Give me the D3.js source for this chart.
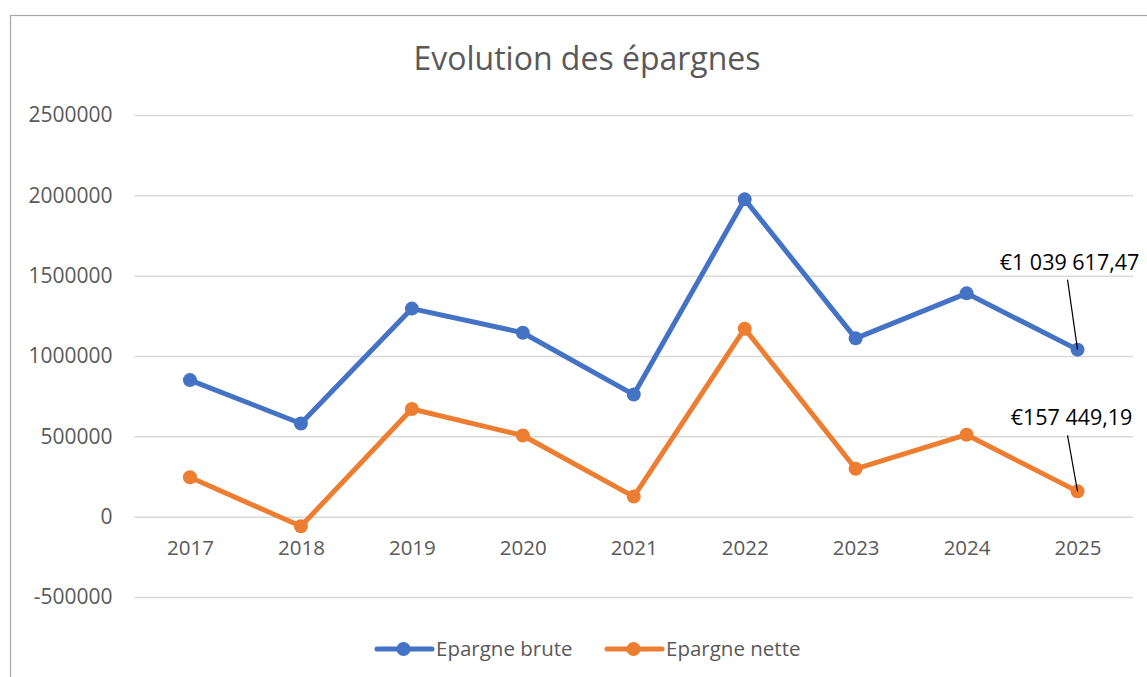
<!DOCTYPE html>
<html>
<head>
<meta charset="utf-8">
<script src="https://cdn.jsdelivr.net/npm/d3@7"></script>
<style>
  body { margin: 0; background: #fff; }
  svg { display: block; font-family: 'Open Sans', sans-serif; }
</style>
</head>
<body>
<div id="chart"></div>
<script>
const years = ['2017', '2018', '2019', '2020', '2021', '2022', '2023', '2024', '2025'];
const epargneBrute = [850000, 580000, 1295000, 1145000, 760000, 1975000, 1110000, 1390000, 1039617.47];
const epargneNette = [245000, -60000, 670000, 505000, 125000, 1170000, 298000, 510000, 157449.19];
const yTicks = [-500000, 0, 500000, 1000000, 1500000, 2000000, 2500000];
const seriesNames = ['Epargne brute', 'Epargne nette'];

const width = 1147;
const height = 677;
const margin = { top: 115, right: 14, bottom: 80, left: 134.5 };

const series = [
  { name: seriesNames[0], values: epargneBrute, color: '#4472c4', label: { dx: -8, dy: -80, lx: -10, ly: -70 } },
  { name: seriesNames[1], values: epargneNette, color: '#ed7d31', label: { dx: -6, dy: -66, lx: -10, ly: -56 } },
];

const fmtEuro = (v) => {
  const [int, dec] = v.toFixed(2).split('.');
  return '€' + int.replace(/\B(?=(\d{3})+(?!\d))/g, ' ') + ',' + dec;
};

const svg = d3.select('#chart').append('svg')
  .attr('width', width)
  .attr('height', height);

// chart area border
svg.append('rect')
  .attr('x', 10.5)
  .attr('y', 15.5)
  .attr('width', width + 20)
  .attr('height', height + 20)
  .attr('fill', 'none')
  .attr('stroke', '#a6a6a6')
  .attr('stroke-width', 1.2);

const x = d3.scalePoint()
  .domain(years)
  .range([margin.left, width - margin.right])
  .padding(0.5);

const y = d3.scaleLinear()
  .domain([-500000, 2500000])
  .range([597, margin.top]);

svg.append('text')
  .attr('x', 587)
  .attr('y', 70)
  .attr('text-anchor', 'middle')
  .attr('fill', '#595959')
  .attr('font-size', '32px')
  .text('Evolution des épargnes');

// gridlines + y labels
const yAxis = d3.axisLeft(y)
  .tickValues(yTicks)
  .tickSize(-(width - margin.right - margin.left))
  .tickFormat((d) => String(d));

const gy = svg.append('g')
  .attr('transform', `translate(${margin.left}, 0)`)
  .call(yAxis);
gy.select('.domain').remove();
gy.selectAll('line').attr('stroke', '#d9d9d9').attr('stroke-width', 1.5);
gy.selectAll('text')
  .attr('x', -22)
  .attr('fill', '#595959')
  .attr('font-size', '21px')
  .attr('font-family', "'Open Sans', sans-serif");

// x labels
const xAxis = d3.axisBottom(x).tickSize(0);
const gx = svg.append('g')
  .attr('transform', `translate(0, ${y(0)})`)
  .call(xAxis);
gx.select('.domain').remove();
gx.selectAll('text')
  .attr('y', 38)
  .attr('dy', 0)
  .attr('fill', '#595959')
  .attr('font-size', '20.5px')
  .attr('font-family', "'Open Sans', sans-serif");

const line = d3.line()
  .x((d, i) => x(years[i]))
  .y((d) => y(d));

series.forEach((s) => {
  const g = svg.append('g');
  g.append('path')
    .datum(s.values)
    .attr('fill', 'none')
    .attr('stroke', s.color)
    .attr('stroke-width', 5)
    .attr('stroke-linejoin', 'round')
    .attr('d', line);

  g.selectAll('circle')
    .data(s.values)
    .join('circle')
    .attr('cx', (d, i) => x(years[i]))
    .attr('cy', (d) => y(d))
    .attr('r', 7)
    .attr('fill', s.color);

  // data label on the last point with leader line
  const last = s.values.length - 1;
  const px = x(years[last]);
  const py = y(s.values[last]);
  g.append('line')
    .attr('x1', px + s.label.lx)
    .attr('y1', py + s.label.ly)
    .attr('x2', px)
    .attr('y2', py)
    .attr('stroke', '#000')
    .attr('stroke-width', 1.2);
  g.append('text')
    .attr('x', px + s.label.dx)
    .attr('y', py + s.label.dy)
    .attr('text-anchor', 'middle')
    .attr('fill', '#000')
    .attr('font-size', '21.5px')
    .text(fmtEuro(s.values[last]));
});

// legend
const legendX = [377, 607];
const legend = svg.append('g').attr('transform', 'translate(0, 649)');
series.forEach((s, i) => {
  const lg = legend.append('g').attr('transform', `translate(${legendX[i]}, 0)`);
  lg.append('line')
    .attr('x1', 0).attr('x2', 55)
    .attr('stroke', s.color)
    .attr('stroke-width', 5)
    .attr('stroke-linecap', 'round');
  lg.append('circle')
    .attr('cx', 26.5)
    .attr('r', 7)
    .attr('fill', s.color);
  lg.append('text')
    .attr('x', 59)
    .attr('dy', '0.35em')
    .attr('fill', '#595959')
    .attr('font-size', '20.5px')
    .text(s.name);
});
</script>
</body>
</html>
